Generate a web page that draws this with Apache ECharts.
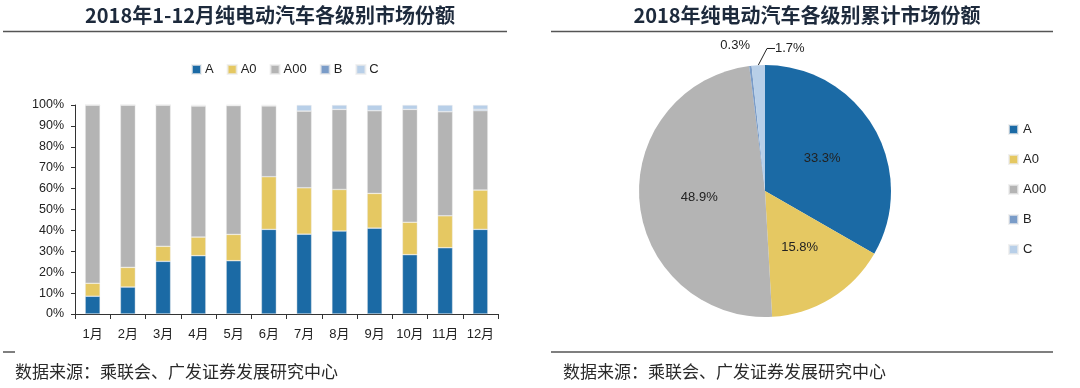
<!DOCTYPE html>
<html>
<head>
<meta charset="utf-8">
<script src="https://cdn.jsdelivr.net/npm/echarts@6/dist/echarts.min.js"></script>
<style>
html,body{margin:0;padding:0;background:#fff;}
#c{width:1080px;height:388px;}
</style>
</head>
<body>
<div id="c"></div>
<script>
var months = ['1月','2月','3月','4月','5月','6月','7月','8月','9月','10月','11月','12月'];
var seriesNames = ['A','A0','A00','B','C'];
var valA   = [8.5, 12.9, 25.2, 27.9, 25.5, 40.5, 38.2, 39.7, 41.1, 28.4, 31.7, 40.5];
var valA0  = [6.2, 9.4, 7.2, 8.9, 12.6, 25.2, 22.2, 19.9, 16.6, 15.5, 15.3, 18.8];
var valA00 = [85.3, 77.7, 67.6, 62.7, 61.6, 33.9, 36.7, 38.3, 39.6, 54.0, 49.8, 38.0];
var valB   = [0, 0, 0, 0.3, 0.2, 0.2, 0, 0, 0, 0, 0, 0.6];
var valC   = [0, 0, 0, 0.2, 0.1, 0.2, 2.9, 2.1, 2.7, 2.1, 3.2, 2.1];
var pieValues = [33.3, 15.8, 48.9, 0.3, 1.7];
var yTicks = [0,10,20,30,40,50,60,70,80,90,100];
var colors = ['#1b6aa5', '#e5c862', '#b4b4b4', '#7a9cc8', '#b8cfe8'];
var titleLeft = '2018年1-12月纯电动汽车各级别市场份额';
var titleRight = '2018年纯电动汽车各级别累计市场份额';
var sourceText = '数据来源：乘联会、广发证券发展研究中心';

var FONT = '"Liberation Sans", Arial, "Noto Sans CJK SC", sans-serif';
var CJK = '"Noto Sans CJK SC", sans-serif';

var barData = [valA, valA0, valA00, valB, valC];
var barSeries = seriesNames.map(function(n, i){
  return {
    name: n, type: 'bar', stack: 'total', barWidth: 15,
    data: barData[i],
    itemStyle: {color: colors[i], borderColor: 'rgba(235,235,235,0.7)', borderWidth: 0.6},
    emphasis: {disabled: true}
  };
});

var pieLabelPos = {
  3: {x: 750, y: 52, align: 'right'},
  4: {x: 772, y: 55, align: 'left'}
};

var option = {
  animation: false,
  color: colors,
  textStyle: {fontFamily: FONT},
  grid: {left: 75, right: 582, top: 105, bottom: 74},
  legend: [{
    data: seriesNames, left: 186, top: 58,
    itemWidth: 9, itemHeight: 9, itemGap: 13,
    icon: 'rect',
    textStyle: {fontSize: 13, color: '#222', fontFamily: FONT, padding: [0,0,0,-1]}
  }, {
    data: seriesNames, orient: 'vertical', left: 1003, top: 118,
    itemWidth: 9, itemHeight: 9, itemGap: 17,
    icon: 'rect',
    textStyle: {fontSize: 13, color: '#222', fontFamily: FONT}
  }],
  xAxis: {
    type: 'category', data: months,
    axisLine: {lineStyle: {color: '#333', width: 1}},
    axisTick: {show: true, length: 5, lineStyle: {color: '#333'}},
    axisLabel: {fontSize: 13, color: '#222', margin: 14, interval: 0, fontFamily: FONT}
  },
  yAxis: {
    type: 'value', min: yTicks[0], max: yTicks[yTicks.length-1], interval: 10,
    axisLine: {show: true, lineStyle: {color: '#333', width: 1}},
    axisTick: {show: true, length: 4, lineStyle: {color: '#333'}},
    splitLine: {show: false},
    axisLabel: {formatter: '{value}%', fontSize: 12.5, color: '#222', margin: 11, fontFamily: FONT}
  },
  series: barSeries.concat([{
    type: 'pie', center: [765, 191], radius: 126, startAngle: 90, clockwise: true,
    avoidLabelOverlap: false,
    data: seriesNames.map(function(n, i){
      var d = {name: n, value: pieValues[i], itemStyle: {color: colors[i]}};
      if (i === 3) {
        d.label = {position: 'outside'};
        d.labelLine = {show: false};
      }
      if (i === 4) {
        d.label = {position: 'outside', padding: [0, 0, 0, 3]};
        d.labelLine = {show: true, length: 5, length2: 8, lineStyle: {color: '#222', width: 1}};
      }
      return d;
    }),
    label: {
      show: true, position: 'inside', fontSize: 13, color: '#222', fontFamily: FONT,
      formatter: function(p){ return p.value.toFixed(1) + '%'; }
    },
    labelLayout: function(p){
      var pos = pieLabelPos[p.dataIndex];
      if (!pos) return {};
      return {x: pos.x, y: pos.y, align: pos.align, verticalAlign: 'bottom'};
    },
    itemStyle: {borderWidth: 0},
    emphasis: {disabled: true}
  }]),
  graphic: [
    {type: 'text', x: 270, y: 15, style: {text: titleLeft, font: 'bold 20px ' + CJK, fill: '#1d2a3c', textAlign: 'center', textVerticalAlign: 'middle'}},
    {type: 'text', x: 807, y: 15, style: {text: titleRight, font: 'bold 20px ' + CJK, fill: '#1d2a3c', textAlign: 'center', textVerticalAlign: 'middle'}},
    {type: 'line', shape: {x1: 3, y1: 31.5, x2: 507, y2: 31.5}, style: {stroke: '#555', lineWidth: 1.5}},
    {type: 'line', shape: {x1: 551, y1: 31.5, x2: 1053, y2: 31.5}, style: {stroke: '#555', lineWidth: 1.5}},
    {type: 'line', shape: {x1: 3, y1: 352, x2: 15, y2: 352}, style: {stroke: '#555', lineWidth: 1.5}},
    {type: 'line', shape: {x1: 551, y1: 352, x2: 1053, y2: 352}, style: {stroke: '#555', lineWidth: 1.5}},
    {type: 'text', x: 15, y: 372, style: {text: sourceText, font: '17px ' + CJK, fill: '#2a2a2a', textVerticalAlign: 'middle'}},
    {type: 'text', x: 563, y: 372, style: {text: sourceText, font: '17px ' + CJK, fill: '#2a2a2a', textVerticalAlign: 'middle'}}
  ]
};

var chart = echarts.init(document.getElementById('c'), null, {renderer: 'canvas'});
chart.setOption(option);
</script>
</body>
</html>
